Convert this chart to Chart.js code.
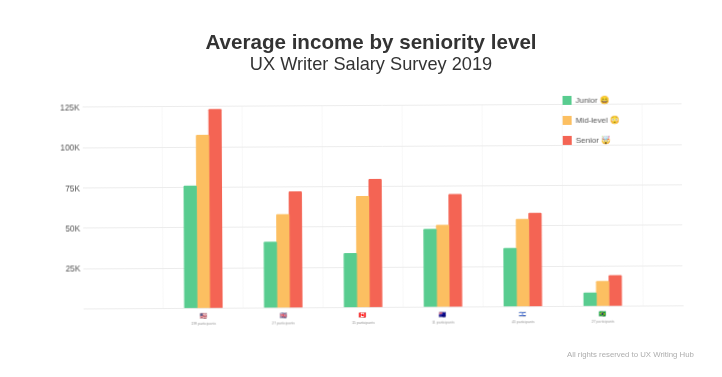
<!DOCTYPE html>
<html>
<head>
<meta charset="utf-8">
<style>
  html, body { margin: 0; padding: 0; background: #fff; overflow: hidden; }
  #wrap { position: relative; width: 722px; height: 377px; font-family: "Liberation Sans", sans-serif; }
  #chart { display: block; transform: rotate(-0.3deg); }
  .head { position: absolute; left: 0; width: 742px; text-align: center; color: #333; white-space: nowrap; }
  #title { top: 30px; font-size: 20.6px; font-weight: bold; line-height: 24px; }
  #subtitle { top: 53px; font-size: 18.2px; line-height: 22px; }
  #credit { position: absolute; left: 567px; top: 350px; font-size: 7.8px; color: #adadad; white-space: nowrap; }
</style>
<script src="https://cdn.jsdelivr.net/npm/chart.js@4/dist/chart.umd.js"></script>
</head>
<body>
<div id="wrap">
  <canvas id="chart" width="722" height="377"></canvas>
  <div class="head" id="title">Average income by seniority level</div>
  <div class="head" id="subtitle">UX Writer Salary Survey 2019</div>
  <div id="credit">All rights reserved to UX Writing Hub</div>
</div>
<script>
const flags = ['🇺🇸', '🇬🇧', '🇨🇦', '🇦🇺', '🇮🇱', '🇧🇷'];
const participants = ['199 participants', '27 participants', '15 participants', '11 participants', '43 participants', '27 participants'];
const junior = [75800, 40800, 33600, 48200, 36200, 8300];
const midLevel = [107300, 57900, 68900, 50700, 54100, 15500];
const senior = [123200, 71900, 79400, 69800, 57900, 19000];
const yTicks = [0, 25000, 50000, 75000, 100000, 125000];

const points = (values) => values.map((y, x) => ({ x, y }));

// legend sits inside the plot, top right
const legendPlacer = {
    id: 'legendPlacer',
    beforeDraw(chart) {
        const legend = chart.legend;
        const w = legend.width;
        const h = legend.height;
        legend.left = 552;
        legend.right = 552 + w;
        legend.top = 86;
        legend.bottom = 86 + h;
    }
};

// flags go above the tiny participant labels, at a bigger size than the tick font
const flagRow = {
    id: 'flagRow',
    afterDraw(chart) {
        const { ctx, chartArea, scales } = chart;
        ctx.save();
        ctx.font = '6px "Noto Color Emoji", "Liberation Sans"';
        ctx.textAlign = 'center';
        ctx.textBaseline = 'middle';
        flags.forEach((flag, i) => {
            ctx.fillText(flag, scales.x.getPixelForTick(i), chartArea.bottom + 8);
        });
        ctx.restore();
    }
};

new Chart(document.getElementById('chart'), {
    type: 'bar',
    plugins: [legendPlacer, flagRow],
    data: {
        datasets: [
            { label: 'Junior 😄', data: points(junior), backgroundColor: '#58CC8F' },
            { label: 'Mid-level 😳', data: points(midLevel), backgroundColor: '#FCBF61' },
            { label: 'Senior 🤯', data: points(senior), backgroundColor: '#F46454' }
        ]
    },
    options: {
        responsive: false,
        animation: false,
        layout: { padding: { left: 0, right: 40, top: 105.7, bottom: 0 } },
        datasets: { bar: { barThickness: 12.6, borderRadius: 1 } },
        plugins: {
            tooltip: { enabled: false },
            title: { display: false },
            legend: {
                position: 'chartArea',
                align: 'start',
                labels: {
                    boxWidth: 9,
                    boxHeight: 9,
                    padding: 11,
                    color: '#555',
                    font: { family: 'Liberation Sans', size: 8 }
                }
            }
        },
        scales: {
            x: {
                type: 'linear',
                offset: false,
                min: -1.5,
                max: 6,
                afterBuildTicks: (scale) => { scale.ticks = participants.map((_, i) => ({ value: i })); },
                afterFit: (scale) => { scale.height = 69.5; },
                grid: { offset: true, color: '#f8f8f8', drawTicks: false },
                border: { color: '#ececec' },
                ticks: {
                    autoSkip: false,
                    maxRotation: 0,
                    padding: 13,
                    color: '#999',
                    font: { family: 'Liberation Sans', size: 3.5 },
                    callback: (v) => participants[v]
                }
            },
            y: {
                min: 0,
                max: 125000,
                afterFit: (scale) => { scale.width = 83; },
                afterBuildTicks: (scale) => { scale.ticks = yTicks.map((value) => ({ value })); },
                grid: { color: '#ececec', drawTicks: false },
                border: { display: false },
                ticks: {
                    padding: 3,
                    labelOffset: 1,
                    color: '#555',
                    font: { family: 'Liberation Sans', size: 8.3 },
                    callback: (v) => v === 0 ? '' : (v / 1000) + 'K'
                }
            }
        }
    }
});
</script>
</body>
</html>
